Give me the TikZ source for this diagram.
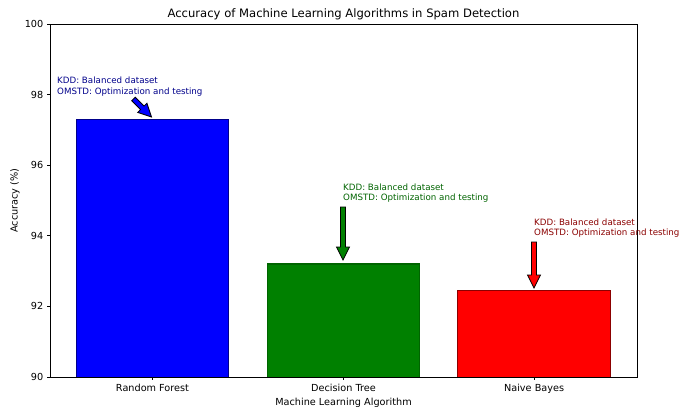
\documentclass[tikz,border=0pt]{standalone}
\usepackage{fontspec}
\setmainfont{DejaVu Sans}
\usetikzlibrary{calc}
\definecolor{mblue}{RGB}{0,0,255}
\definecolor{mgreen}{RGB}{0,128,0}
\definecolor{mred}{RGB}{255,0,0}
\definecolor{dblue}{RGB}{0,0,139}
\definecolor{dgreen}{RGB}{0,100,0}
\definecolor{dred}{RGB}{139,0,0}
\tikzset{
  fatarrowstyle/.style={draw=black, line width=0.8pt, line join=miter},
  barstyle/.style={line width=1.1pt},
  spine/.style={draw=black, line width=0.8pt},
  ticklab/.style={inner sep=0pt, font=\fontsize{9.7}{11}\selectfont},
  annot/.style={inner sep=0pt, align=left, font=\fontsize{8.7}{10.5}\selectfont},
}
\newcommand\fatarrow[3]{%
  \coordinate (#1h) at ($(#2)!13pt!(#1)$);
  \draw[fatarrowstyle, fill=#3]
    ($(#1)!2.5pt!90:(#2)$) -- ($(#1h)!2.5pt!90:(#2)$) -- ($(#1h)!6.5pt!90:(#2)$) --
    (#2) -- ($(#1h)!6.5pt!-90:(#2)$) -- ($(#1h)!2.5pt!-90:(#2)$) --
    ($(#1)!2.5pt!-90:(#2)$) -- cycle;
}
\begin{document}
\begin{tikzpicture}[x=1pt,y=-1pt]
\useasboundingbox[fill=white] (0,0) rectangle (680,409);
% bars
\fill[mblue] (76.1,377) rectangle (228.9,119.3);
\draw[barstyle, draw=dblue] (76.1,377) -- (76.1,119.3) -- (228.9,119.3) -- (228.9,377);
\fill[mgreen] (267.1,377) rectangle (419.9,264);
\draw[barstyle, draw=dgreen] (267.1,377) -- (267.1,264) -- (419.9,264) -- (419.9,377);
\fill[mred] (457.7,377) rectangle (610.5,290.5);
\draw[barstyle, draw=dred] (457.7,377) -- (457.7,290.5) -- (610.5,290.5) -- (610.5,377);
% axes frame
\draw[spine] (50,24) rectangle (637,377);
% y ticks
\foreach \v/\yy in {90/377,92/306.4,94/235.8,96/165.2,98/94.6,100/24}{
  \draw[spine] (50,\yy) -- (46.6,\yy);
  \node[ticklab, anchor=east] (yt\v) at (43.5,\yy) {\v};
}
% x ticks
\foreach \n/\xx/\lab in {rf/152.5/Random Forest, dt/343.5/Decision Tree, nb/534.1/Naive Bayes}{
  \draw[spine] (\xx,377) -- (\xx,380.4);
  \node[ticklab, anchor=base] (xt\n) at (\xx,391.5) {\lab};
}
% axis labels and title
\node[ticklab, anchor=base] (xlab) at (343.5,405) {Machine Learning Algorithm};
\node[ticklab, rotate=90] (ylab) at (15,200.5) {Accuracy (\%)};
\node[inner sep=0pt, anchor=base, font=\fontsize{11.6}{13}\selectfont] (title) at (343.5,17.5) {Accuracy of Machine Learning Algorithms in Spam Detection};
% annotations (base = baseline of the last line)
\node[annot, anchor=base west, text=dblue] (t1) at (57,94.5) {KDD: Balanced dataset\\OMSTD: Optimization and testing};
\node[annot, anchor=base west, text=dgreen] (t2) at (343,200.5) {KDD: Balanced dataset\\OMSTD: Optimization and testing};
\node[annot, anchor=base west, text=dred] (t3) at (534,235.5) {KDD: Balanced dataset\\OMSTD: Optimization and testing};
\coordinate (a1) at (133.5,99);
\coordinate (b1) at (151.5,117);
\coordinate (a2) at (343,207);
\coordinate (b2) at (343,260);
\coordinate (a3) at (534,242);
\coordinate (b3) at (534,288);
\fatarrow{a1}{b1}{mblue}
\fatarrow{a2}{b2}{mgreen}
\fatarrow{a3}{b3}{mred}
\end{tikzpicture}
\end{document}
